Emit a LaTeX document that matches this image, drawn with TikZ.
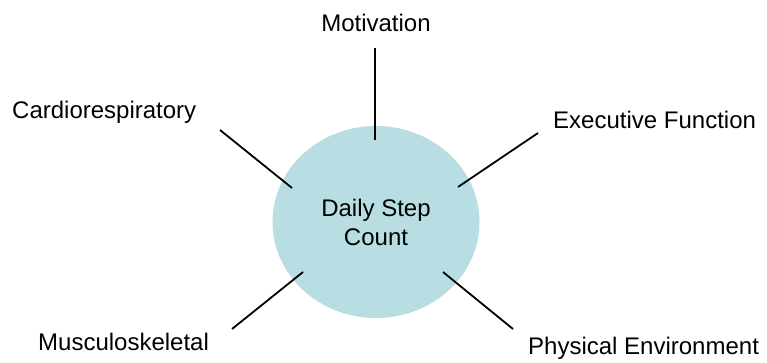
\documentclass[tikz,border=0pt]{standalone}
\usepackage{fontspec}
\setmainfont{Liberation Sans}
\usepackage{xcolor}
\usetikzlibrary{positioning,shapes.geometric}
\definecolor{hubblue}{RGB}{184,221,226}
\tikzset{
    hub/.style={
           ellipse,
           fill=hubblue,
           minimum width=207pt,
           minimum height=192pt,
           inner sep=0pt,
           align=center,
           },
    factor/.style={
           inner sep=0pt,
           },
    spoke/.style={
           line width=1.8pt,
           },
}

\begin{document}
\begin{tikzpicture}[x=1pt,y=-1pt,font=\fontsize{24}{29}\selectfont]
 \useasboundingbox (0,0) rectangle (767,363);

 \node[hub] (DSC) at (376,222) {Daily Step\\Count};

 \node[factor, anchor=base] (MOT) at (376,32) {Motivation};
 \node[factor, anchor=base west] (CAR) at (12,119) {Cardiorespiratory};
 \node[factor, anchor=base west] (EXF) at (553,129) {Executive Function};
 \node[factor, anchor=base west] (MSK) at (38,350) {Musculoskeletal};
 \node[factor, anchor=base west] (PHE) at (528,354) {Physical Environment};

 % spoke ends
 \coordinate (MOT-out) at (375,48);
 \coordinate (MOT-in)  at (375,140);
 \coordinate (CAR-out) at (220,130);
 \coordinate (CAR-in)  at (292,188);
 \coordinate (EXF-out) at (538,133);
 \coordinate (EXF-in)  at (458,187);
 \coordinate (MSK-out) at (232,329);
 \coordinate (MSK-in)  at (303,272);
 \coordinate (PHE-out) at (513,329);
 \coordinate (PHE-in)  at (443,272);

 \draw[spoke] (MOT-out) -- (MOT-in);
 \draw[spoke] (CAR-out) -- (CAR-in);
 \draw[spoke] (EXF-out) -- (EXF-in);
 \draw[spoke] (MSK-out) -- (MSK-in);
 \draw[spoke] (PHE-out) -- (PHE-in);

\end{tikzpicture}
\end{document}
